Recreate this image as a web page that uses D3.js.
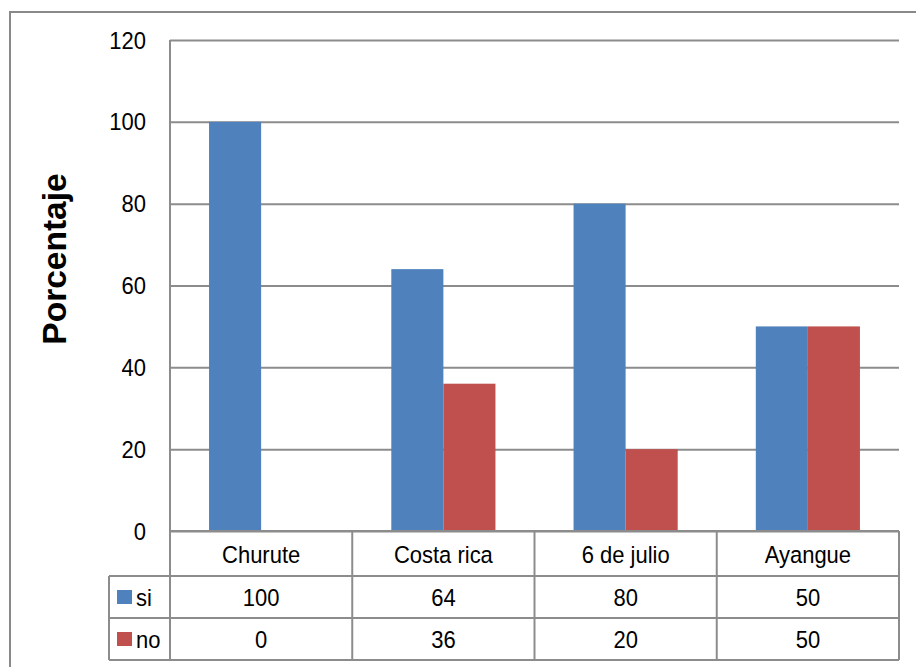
<!DOCTYPE html>
<html>
<head>
<meta charset="utf-8">
<script src="https://cdn.jsdelivr.net/npm/d3@7/dist/d3.min.js"></script>
<style>
  html, body { margin: 0; padding: 0; background: #fff; }
  svg { display: block; }
  text { font-family: "Liberation Sans", Arial, sans-serif; fill: #000; }
</style>
</head>
<body>
<svg id="chart" width="916" height="667"></svg>
<script>
// Chart data
const categories = ["Churute", "Costa rica", "6 de julio", "Ayangue"];
const seriesNames = ["si", "no"];
const siValues = [100, 64, 80, 50];
const noValues = [0, 36, 20, 50];
const yTicks = [0, 20, 40, 60, 80, 100, 120];
const yTitle = "Porcentaje";

const colors = { si: "#4F81BD", no: "#C0504D" };
const gridColor = "#8c8c8c";

const svg = d3.select("#chart");

// Plot geometry
const plot = { left: 170, right: 899, top: 40, bottom: 531 };
const rowH = { cat: 45, si: 42, no: 42 };
const tableLeft = 109;

// Outer chart border (extends beyond the visible frame on right and bottom)
svg.append("rect")
  .attr("x", 10).attr("y", 12)
  .attr("width", 940).attr("height", 700)
  .attr("fill", "none")
  .attr("stroke", "#898989")
  .attr("stroke-width", 2);

const x = d3.scaleBand().domain(categories).range([plot.left, plot.right]).padding(0);
// two bars per category with a 150% gap: step = band / 3.5
const xs = d3.scaleBand().domain(seriesNames).range([0, x.bandwidth()])
  .paddingInner(0).paddingOuter(0.75);
const y = d3.scaleLinear().domain([0, 120]).range([plot.bottom, plot.top]);

// Gridlines + tick labels
const yAxis = d3.axisLeft(y)
  .tickValues(yTicks)
  .tickSize(-(plot.right - plot.left))
  .tickPadding(24)
  .tickFormat(d3.format("d"));

const gy = svg.append("g")
  .attr("transform", `translate(${plot.left},0)`)
  .call(yAxis);
gy.select(".domain").remove();
gy.selectAll(".tick line")
  .attr("stroke", gridColor)
  .attr("stroke-width", 2);
gy.selectAll(".tick text")
  .attr("font-size", 22)
  .attr("font-family", "Liberation Sans, Arial, sans-serif")
  .attr("fill", "#000")
  .attr("dy", "0.34em")
  .attr("transform", "scale(1,1.08)");

// Bars
const seriesData = seriesNames.map(s => ({
  key: s,
  values: categories.map((c, i) => ({ cat: c, value: (s === "si" ? siValues : noValues)[i] }))
}));

const gBars = svg.append("g");
seriesData.forEach(s => {
  gBars.selectAll(null)
    .data(s.values.filter(d => d.value > 0))
    .join("rect")
    .attr("x", d => x(d.cat) + xs(s.key))
    .attr("y", d => y(d.value))
    .attr("width", xs.bandwidth())
    .attr("height", d => y(0) - y(d.value))
    .attr("fill", colors[s.key]);
});

// Vertical axis line
svg.append("line")
  .attr("x1", plot.left).attr("x2", plot.left)
  .attr("y1", plot.top).attr("y2", plot.bottom)
  .attr("stroke", gridColor).attr("stroke-width", 2);

// Data table
const tTop = plot.bottom;
const rowSi = tTop + rowH.cat;
const rowNo = rowSi + rowH.si;
const tBottom = rowNo + rowH.no;
const gt = svg.append("g")
  .attr("stroke", gridColor)
  .attr("stroke-width", 2)
  .attr("fill", "none");

// horizontal lines
gt.append("line").attr("x1", plot.left).attr("x2", plot.right).attr("y1", tTop).attr("y2", tTop);
gt.append("line").attr("x1", tableLeft).attr("x2", plot.right).attr("y1", rowSi).attr("y2", rowSi);
gt.append("line").attr("x1", tableLeft).attr("x2", plot.right).attr("y1", rowNo).attr("y2", rowNo);
gt.append("line").attr("x1", tableLeft).attr("x2", plot.right).attr("y1", tBottom).attr("y2", tBottom);
// vertical lines
gt.append("line").attr("x1", tableLeft).attr("x2", tableLeft).attr("y1", rowSi).attr("y2", tBottom);
const colEdges = categories.map(c => x(c)).concat([plot.right]);
gt.selectAll(null).data(colEdges).join("line")
  .attr("x1", d => d).attr("x2", d => d)
  .attr("y1", tTop).attr("y2", tBottom);

function cellText(txt, cx, cy) {
  svg.append("g")
    .attr("transform", `translate(${cx},${cy}) scale(1,1.08)`)
    .append("text")
    .attr("text-anchor", "middle")
    .attr("dy", "0.36em")
    .attr("font-size", 22)
    .text(txt);
}

categories.forEach((c, i) => {
  const cx = x(c) + x.bandwidth() / 2;
  cellText(c, cx, tTop + rowH.cat / 2 + 1);
  cellText(siValues[i], cx, rowSi + rowH.si / 2);
  cellText(noValues[i], cx, rowNo + rowH.no / 2);
});

// Legend keys in the table
[["si", rowSi, rowH.si], ["no", rowNo, rowH.no]].forEach(([k, top, h]) => {
  svg.append("rect")
    .attr("x", 117).attr("y", top + h / 2 - 7)
    .attr("width", 15).attr("height", 14)
    .attr("fill", colors[k]);
  svg.append("g")
    .attr("transform", `translate(136,${top + h / 2}) scale(1,1.08)`)
    .append("text")
    .attr("dy", "0.36em")
    .attr("font-size", 22)
    .text(k);
});

// Y axis title
svg.append("text")
  .attr("transform", "translate(66,259) rotate(-90)")
  .attr("text-anchor", "middle")
  .attr("font-size", 33.5)
  .attr("font-weight", "bold")
  .text(yTitle);
</script>
</body>
</html>
